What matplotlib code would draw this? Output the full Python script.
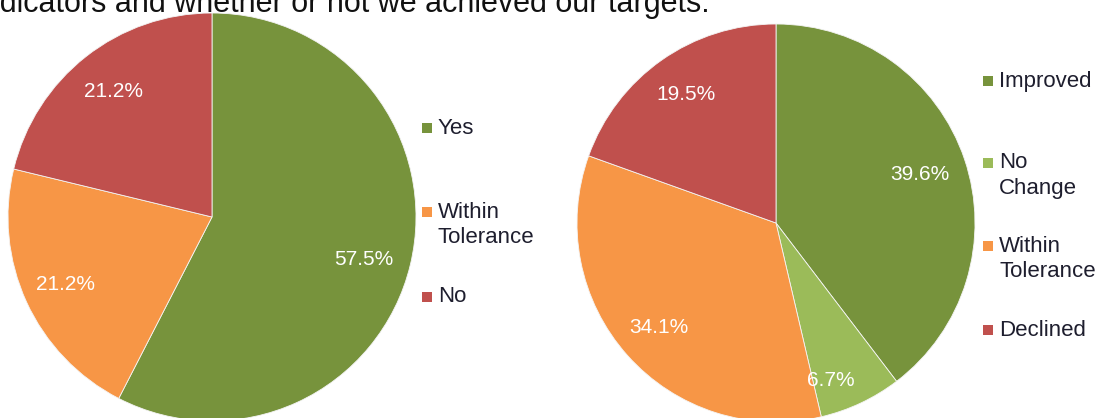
import matplotlib
matplotlib.use("Agg")
import matplotlib.pyplot as plt
from matplotlib.patches import Rectangle
import numpy as np

# ---- data ----
target_labels = ["Yes", "Within\nTolerance", "No"]
target_values = [57.5, 21.2, 21.2]
target_colors = ["#77933C", "#F79646", "#C0504D"]

trend_labels = ["Improved", "No\nChange", "Within\nTolerance", "Declined"]
trend_values = [39.6, 6.7, 34.1, 19.5]
trend_colors = ["#77933C", "#9BBB59", "#F79646", "#C0504D"]

heading_lead = "Performance against our key indicators "
heading_tail = "and whether or not we achieved our targets."

W, H = 1104, 418
plt.rcParams["font.family"] = ["Liberation Sans", "DejaVu Sans"]
fig = plt.figure(figsize=(W / 100, H / 100), dpi=100)
fig.patch.set_facecolor("white")


def px_axes(cx, cy, r):
    """Square axes centred on (cx, cy) in pixel coords (y from top)."""
    return fig.add_axes([(cx - r) / W, (H - cy - r) / H, 2 * r / W, 2 * r / H])


def draw_pie(ax, values, colors, dists, angle_shift):
    wedges, _ = ax.pie(values, colors=colors, startangle=90, counterclock=False,
                       radius=1.0,
                       wedgeprops=dict(edgecolor="#f4f4f4", linewidth=0.6))
    for w, v, d, s in zip(wedges, values, dists, angle_shift):
        mid = np.deg2rad((w.theta1 + w.theta2) / 2 + s)
        ax.text(d * np.cos(mid), d * np.sin(mid), f"{v:.1f}%",
                ha="center", va="center", color="white", fontsize=15)
    ax.set_xlim(-1, 1)
    ax.set_ylim(-1, 1)
    ax.set_aspect("equal")
    ax.axis("off")


def draw_legend(x, rows, labels, colors, line_gap=25.5, box=10):
    for y, lab, col in zip(rows, labels, colors):
        fig.patches.append(Rectangle((x / W, (H - y - box / 2) / H), box / W, box / H,
                                     transform=fig.transFigure, facecolor=col,
                                     edgecolor="none"))
        for i, line in enumerate(lab.split("\n")):
            fig.text((x + 16) / W, (H - y - i * line_gap) / H, line,
                     ha="left", va="center", fontsize=16, color="#1e1e2e")


ax1 = px_axes(212, 217, 204)
draw_pie(ax1, target_values, target_colors, [0.77, 0.79, 0.78], [-2, 0, 0])

ax2 = px_axes(776, 223, 199)
draw_pie(ax2, trend_values, trend_colors, [0.765, 0.84, 0.79, 0.79], [0, -6, 0, 0])

draw_legend(422, [128, 212, 297], target_labels, target_colors)
draw_legend(983, [81, 163, 246, 330], trend_labels, trend_colors)

# Heading line, partly above the top edge; "and" begins at x = 115 px
head_fs = 22
renderer = fig.canvas.get_renderer()
probe_a = fig.text(0, 0, heading_lead + "and", fontsize=head_fs)
probe_b = fig.text(0, 0, "and", fontsize=head_fs)
lead_w = (probe_a.get_window_extent(renderer).width
          - probe_b.get_window_extent(renderer).width)
probe_a.remove()
probe_b.remove()
fig.text((115 - lead_w) / W, 1 - 12 / H, heading_lead + heading_tail,
         ha="left", va="baseline", fontsize=head_fs, color="#111111")

fig.savefig("out.png", dpi=100)
